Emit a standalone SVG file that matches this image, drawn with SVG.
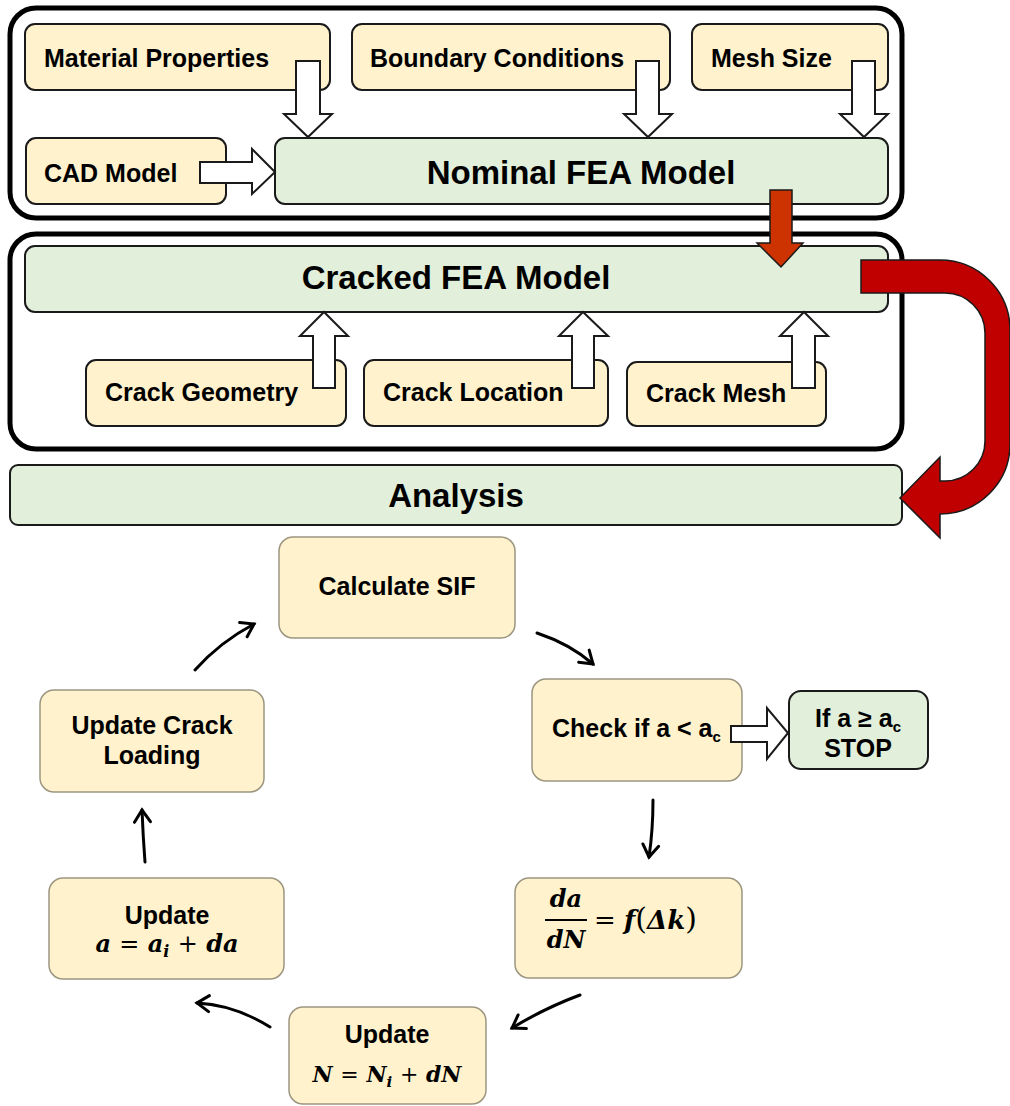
<svg xmlns="http://www.w3.org/2000/svg" width="1010" height="1106" viewBox="0 0 1010 1106">
<defs>
<style>
.frame{fill:none;stroke:#000;stroke-width:5}
.inp{fill:#fff2cc;stroke:#1a1a1a;stroke-width:2}
.fea{fill:#e2efda;stroke:#1a1a1a;stroke-width:2}
.step{fill:#fff2cc;stroke:#9c9680;stroke-width:1.5}
.stop{fill:#e2efda;stroke:#1a1a1a;stroke-width:2}
.blk{fill:#fff;stroke:#1a1a1a;stroke-width:2;stroke-linejoin:miter}
.t{font-family:"Liberation Sans",Arial,sans-serif;font-weight:bold;font-size:25px;fill:#000}
.big{font-size:33px}
.m{font-family:"DejaVu Serif","Liberation Serif",serif;font-weight:bold;font-style:italic;font-size:24px;fill:#000}
.up{font-style:normal;font-weight:normal}
.cyc{fill:none;stroke:#000;stroke-width:3;stroke-linecap:round;marker-end:url(#chev)}
</style>
<marker id="chev" viewBox="0 0 20 20" refX="16" refY="10" markerWidth="20" markerHeight="20" markerUnits="userSpaceOnUse" orient="auto">
<path d="M4,2 L16,10 L4,18" fill="none" stroke="#000" stroke-width="3" stroke-linecap="round" stroke-linejoin="miter"/>
</marker>
</defs>
<rect width="1010" height="1106" fill="#fff"/>

<g id="nominal-frame"><rect class="frame" x="10" y="8" width="892" height="210" rx="26"/></g>
<g id="cracked-frame"><rect class="frame" x="10" y="234" width="892" height="215" rx="26"/></g>

<g id="material-properties"><rect class="inp" x="25" y="24" width="305" height="66" rx="10"/><text class="t" x="44" y="67">Material Properties</text></g>
<g id="boundary-conditions"><rect class="inp" x="352" y="24" width="318" height="66" rx="10"/><text class="t" x="370" y="67">Boundary Conditions</text></g>
<g id="mesh-size"><rect class="inp" x="692" y="24" width="196" height="66" rx="10"/><text class="t" x="711" y="67">Mesh Size</text></g>
<g id="cad-model"><rect class="inp" x="26" y="138" width="200" height="66" rx="10"/><text class="t" x="44" y="182">CAD Model</text></g>
<g id="nominal-fea-model"><rect class="fea" x="275" y="138" width="613" height="66" rx="10"/><text class="t big" x="581" y="184" text-anchor="middle">Nominal FEA Model</text></g>

<g id="cracked-fea-model"><rect class="fea" x="25" y="246" width="863" height="66" rx="10"/><text class="t big" x="456" y="289" text-anchor="middle">Cracked FEA Model</text></g>
<g id="crack-geometry"><rect class="inp" x="86" y="360" width="260" height="66" rx="10"/><text class="t" x="105" y="401">Crack Geometry</text></g>
<g id="crack-location"><rect class="inp" x="364" y="360" width="244" height="66" rx="10"/><text class="t" x="383" y="401">Crack Location</text></g>
<g id="crack-mesh"><rect class="inp" x="627" y="362" width="199" height="64" rx="10"/><text class="t" x="646" y="402">Crack Mesh</text></g>

<g id="analysis"><rect class="fea" x="10" y="465" width="892" height="60" rx="8"/><text class="t big" x="456" y="507" text-anchor="middle">Analysis</text></g>

<g id="calculate-sif"><rect class="step" x="279" y="537" width="236" height="101" rx="14"/><text class="t" x="397" y="595" text-anchor="middle">Calculate SIF</text></g>
<g id="update-crack-loading"><rect class="step" x="40" y="690" width="224" height="102" rx="14"/><text class="t" x="152" y="734" text-anchor="middle">Update Crack</text><text class="t" x="152" y="764" text-anchor="middle">Loading</text></g>
<g id="check"><rect class="step" x="532" y="679" width="210" height="102" rx="14"/><text class="t" x="552" y="737">Check if a &lt; a<tspan font-size="15" dy="5">c</tspan></text></g>
<g id="stop"><rect class="stop" x="789" y="691" width="139" height="78" rx="12"/><text class="t" x="858" y="727" text-anchor="middle">If a ≥ a<tspan font-size="15" dy="5">c</tspan></text><text class="t" x="858" y="757" text-anchor="middle">STOP</text></g>
<g id="crack-growth-rate"><rect class="step" x="515" y="878" width="227" height="100" rx="14"/>
<text class="m" x="566" y="907" text-anchor="middle">da</text>
<line x1="545" y1="920" x2="587" y2="920" stroke="#000" stroke-width="2"/>
<text class="m" x="566" y="948" text-anchor="middle">dN</text>
<text class="m" x="594" y="929" style="font-size:26px"><tspan class="up">= </tspan>f<tspan class="up" style="font-size:30px">(</tspan>Δk<tspan class="up" style="font-size:30px">)</tspan></text></g>
<g id="update-a"><rect class="step" x="49" y="878" width="235" height="101" rx="14"/><text class="t" x="167" y="924" text-anchor="middle">Update</text><text class="m" x="167" y="952" text-anchor="middle">a <tspan class="up">=</tspan> a<tspan font-size="16" dy="5">i</tspan><tspan dy="-5"> </tspan><tspan class="up">+</tspan> da</text></g>
<g id="update-n"><rect class="step" x="289" y="1007" width="197" height="97" rx="14"/><text class="t" x="387" y="1043" text-anchor="middle">Update</text><text class="m" x="387" y="1082" text-anchor="middle" style="font-size:22px">N <tspan class="up">=</tspan> N<tspan font-size="15" dy="5">i</tspan><tspan dy="-5"> </tspan><tspan class="up">+</tspan> dN</text></g>

<g id="connectors">
<path class="blk" d="M296,61 H320 V114 H332 L308,137 L284,114 H296 Z"/>
<path class="blk" d="M636,61 H659 V114 H672 L648,137 L624,114 H636 Z"/>
<path class="blk" d="M852,61 H875 V114 H888 L864,137 L840,114 H852 Z"/>
<path class="blk" d="M200,162 H252 V149 L275,172 L252,194 V183 H200 Z"/>
<path class="blk" d="M313,388 V336 H300 L324,312 L348,336 H335 V388 Z"/>
<path class="blk" d="M572,388 V336 H559 L583,312 L608,336 H594 V388 Z"/>
<path class="blk" d="M792,388 V336 H780 L804,312 L828,336 H815 V388 Z"/>
<path d="M770,190 H792 V243 H803 L781,267 L757,243 H770 Z" fill="#cc3300" stroke="#1a1a1a" stroke-width="1.5"/>
<path d="M861,260 H940 A70,70 0 0 1 1010,330 V444 A70,70 0 0 1 940,514 V538 L900,498 L940,457 V481 H945 A40,40 0 0 0 985,441 V333 A40,40 0 0 0 945,293 H861 Z" fill="#c00000" stroke="#1a1a1a" stroke-width="1.5"/>
<path class="blk" d="M731,726 H767 V708 L788,733 L767,759 V742 H731 Z"/>
<path class="cyc" d="M195,670 Q220,642 254,624"/>
<path class="cyc" d="M537,633 Q570,644 593,664"/>
<path class="cyc" d="M653,800 Q653,830 649,857"/>
<path class="cyc" d="M580,995 Q545,1008 512,1028"/>
<path class="cyc" d="M270,1027 Q235,1005 197,1003"/>
<path class="cyc" d="M145,862 Q143,836 142,810"/>
</g>
</svg>
